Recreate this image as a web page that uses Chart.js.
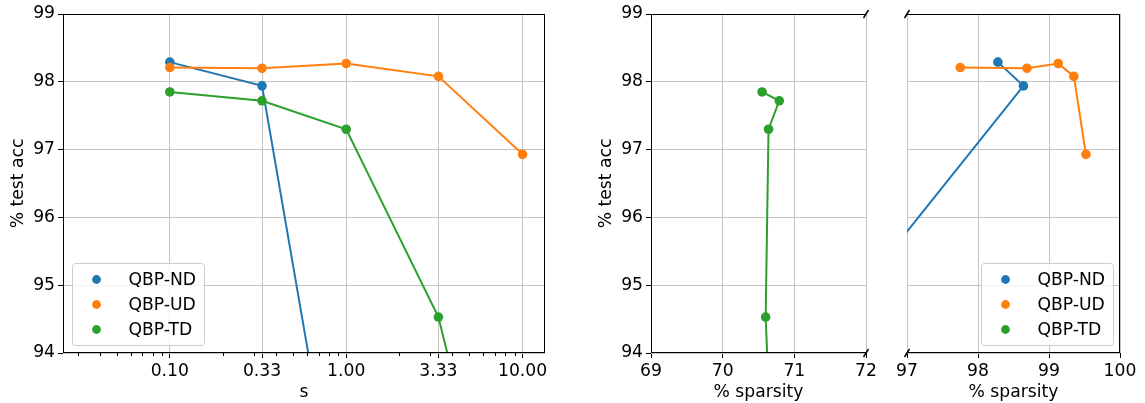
<!DOCTYPE html>
<html>
<head>
<meta charset="utf-8">
<script src="https://cdn.jsdelivr.net/npm/chart.js@4.4.0/dist/chart.umd.min.js"></script>
<style>
  body { margin: 0; background: #fff; }
  #wrap { position: relative; width: 1145px; height: 403px; }
  canvas { position: absolute; top: 0; }
</style>
</head>
<body>
<div id="wrap">
  <canvas id="left" width="575" height="403" style="left:0px"></canvas>
  <canvas id="mid" width="300" height="403" style="left:580px"></canvas>
  <canvas id="right" width="260" height="403" style="left:885px"></canvas>
</div>
<script>
// values
const seriesNames = ['QBP-ND', 'QBP-UD', 'QBP-TD'];
const seriesColors = ['#1f77b4', '#ff7f0e', '#2ca02c'];

const sValues = [0.1, 0.3333, 1, 3.333, 10];
const ndAcc = [98.29, 97.94, 90.76];
const udAcc = [98.21, 98.20, 98.27, 98.08, 96.93];
const tdAcc = [97.85, 97.72, 97.30, 94.53, 89.5];

const ndSparsity = [98.28, 98.64, 93.16];
const udSparsity = [97.75, 98.69, 99.13, 99.35, 99.52];
const tdSparsity = [70.55, 70.79, 70.64, 70.60, 70.79];

const accTicks = [94, 95, 96, 97, 98, 99];
const sTicks = [0.1, 0.3333, 1, 3.333, 10];
const sMinorTicks = [0.03, 0.04, 0.05, 0.06, 0.07, 0.08, 0.09,
  0.2, 0.3, 0.4, 0.5, 0.6, 0.7, 0.8, 0.9, 2, 3, 4, 5, 6, 7, 8, 9];
const sparsityLowTicks = [69, 70, 71, 72];
const sparsityHighTicks = [97, 98, 99, 100];

const FONT = { family: "'DejaVu Sans', sans-serif", size: 17.2 };
const GRID = '#c4c4c4';

// axes frame, broken-axis marks, minor ticks and the boxed legend
const decor = {
  id: 'decor',
  afterDraw(chart, args, opts) {
    const { ctx, chartArea: a } = chart;
    ctx.save();
    ctx.strokeStyle = '#000';
    ctx.lineWidth = 1;
    const L = Math.round(a.left) + 0.5, R = Math.round(a.right) - 0.5;
    const T = Math.round(a.top) + 0.5, B = Math.round(a.bottom) - 0.5;
    const line = (x1, y1, x2, y2) => { ctx.beginPath(); ctx.moveTo(x1, y1); ctx.lineTo(x2, y2); ctx.stroke(); };
    (opts.sides || []).forEach(s => {
      if (s === 'left') line(L, a.top, L, a.bottom);
      if (s === 'right') line(R, a.top, R, a.bottom);
      if (s === 'top') line(a.left, T, a.right, T);
      if (s === 'bottom') line(a.left, B, a.right, B);
    });

    if (opts.breakAt) {
      const x = opts.breakAt === 'right' ? a.right : a.left;
      ctx.lineWidth = 1.5;
      [a.top, a.bottom].forEach(y => line(x - 2.5, y + 4, x + 2.5, y - 4));
      ctx.lineWidth = 1;
    }

    if (opts.minor) {
      const sx = chart.scales.x;
      opts.minor.forEach(v => {
        const px = Math.round(sx.getPixelForValue(v)) + 0.5;
        if (px >= a.left && px <= a.right) line(px, a.bottom, px, a.bottom + 3);
      });
    }

    if (opts.legend) {
      const w = 132, h = 82;
      const x = Math.round(opts.legend === 'left' ? a.left + 9 : a.right - 7 - w) + 0.5;
      const y = Math.round(a.bottom - 8 - h) + 0.5;
      const r = 3;
      ctx.beginPath();
      ctx.moveTo(x + r, y);
      ctx.arcTo(x + w, y, x + w, y + h, r);
      ctx.arcTo(x + w, y + h, x, y + h, r);
      ctx.arcTo(x, y + h, x, y, r);
      ctx.arcTo(x, y, x + w, y, r);
      ctx.closePath();
      ctx.fillStyle = 'rgba(255,255,255,0.8)';
      ctx.fill();
      ctx.strokeStyle = '#cccccc';
      ctx.stroke();
      ctx.font = '17.2px "DejaVu Sans"';
      ctx.textBaseline = 'middle';
      chart.data.datasets.forEach((ds, i) => {
        const cy = y + 16 + i * 25;
        ctx.beginPath();
        ctx.arc(x + 24, cy, 4.4, 0, Math.PI * 2);
        ctx.fillStyle = ds.borderColor;
        ctx.fill();
        ctx.fillStyle = '#000';
        ctx.fillText(ds.label, x + 56, cy + 1);
      });
    }
    ctx.restore();
  }
};

function series(i, xs, ys) {
  return {
    label: seriesNames[i],
    data: ys.map((y, k) => ({ x: xs[k], y: y })),
    showLine: true,
    borderColor: seriesColors[i],
    backgroundColor: seriesColors[i],
    borderWidth: 2,
    pointRadius: 4.8,
    pointBorderWidth: 0,
    pointHoverRadius: 4.8,
    order: 3 - i
  };
}

function xAxis(extra, ticks, title, fmt) {
  return Object.assign({
    afterBuildTicks: s => { s.ticks = ticks.map(v => ({ value: v })); },
    afterFit: s => { s.height = 50; s.paddingLeft = 0; s.paddingRight = 0; },
    ticks: { font: FONT, color: '#000', padding: 3, maxRotation: 0, autoSkip: false, callback: fmt },
    grid: { color: GRID, tickColor: '#000', tickLength: 5, lineWidth: 1 },
    border: { display: false },
    title: { display: true, text: title, font: FONT, color: '#000', padding: 0 }
  }, extra);
}

function yAxis(withLabels) {
  return {
    min: 94, max: 99,
    afterBuildTicks: s => { s.ticks = accTicks.map(v => ({ value: v })); },
    afterFit: s => { s.width = withLabels ? 63 : 0; },
    ticks: { display: withLabels, font: FONT, color: '#000', padding: 3 },
    grid: { color: GRID, tickColor: '#000', tickLength: 5, lineWidth: 1, drawTicks: withLabels },
    border: { display: false },
    title: { display: withLabels, text: '% test acc', font: FONT, color: '#000', padding: { top: 8, bottom: 0 } }
  };
}

function makeChart(id, datasets, xScale, yScale, padding, decorOpts) {
  return new Chart(document.getElementById(id), {
    type: 'scatter',
    data: { datasets: datasets },
    options: {
      responsive: false,
      animation: false,
      devicePixelRatio: 1,
      layout: { padding: padding },
      scales: { x: xScale, y: yScale },
      plugins: { legend: { display: false }, tooltip: { enabled: false }, decor: decorOpts }
    },
    plugins: [decor]
  });
}

makeChart('left',
  [series(0, sValues, ndAcc), series(1, sValues, udAcc), series(2, sValues, tdAcc)],
  xAxis({ type: 'logarithmic', min: 0.0248, max: 13.4 }, sTicks, 's', v => Number(v).toFixed(2)),
  yAxis(true),
  { top: 14, right: 30, left: 0, bottom: 0 },
  { sides: ['left', 'right', 'top', 'bottom'], minor: sMinorTicks, legend: 'left' });

makeChart('mid',
  [series(0, ndSparsity, ndAcc), series(1, udSparsity, udAcc), series(2, tdSparsity, tdAcc)],
  xAxis({ type: 'linear', min: 69, max: 72 }, sparsityLowTicks, '% sparsity', v => String(v)),
  yAxis(true),
  { top: 14, right: 14, left: 8, bottom: 0 },
  { sides: ['left', 'top', 'bottom'], breakAt: 'right' });

makeChart('right',
  [series(0, ndSparsity, ndAcc), series(1, udSparsity, udAcc), series(2, tdSparsity, tdAcc)],
  xAxis({ type: 'linear', min: 97, max: 100 }, sparsityHighTicks, '% sparsity', v => String(v)),
  yAxis(false),
  { top: 14, right: 25, left: 22, bottom: 0 },
  { sides: ['right', 'top', 'bottom'], breakAt: 'left', legend: 'right' });
</script>
</body>
</html>
